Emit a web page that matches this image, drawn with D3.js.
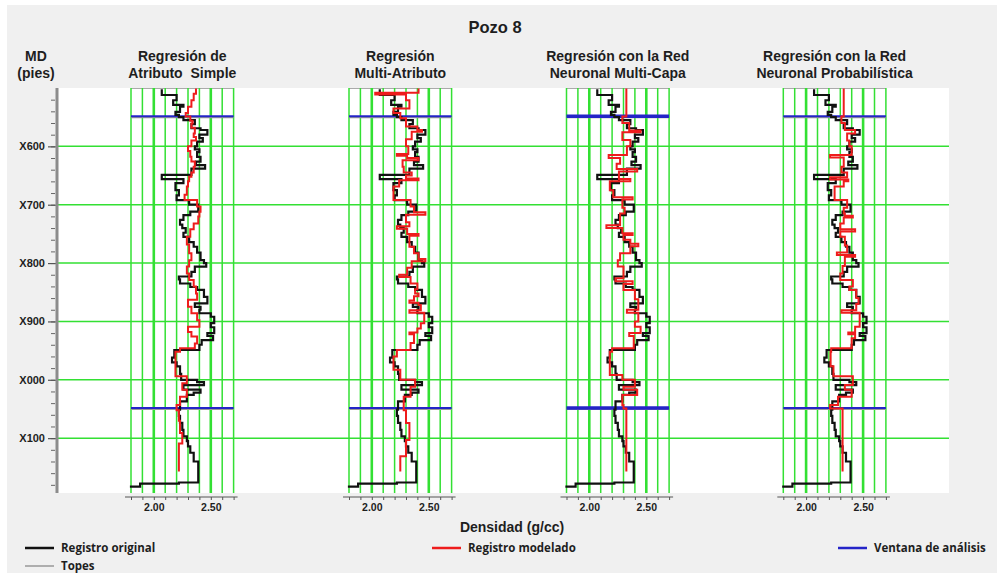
<!DOCTYPE html>
<html>
<head>
<meta charset="utf-8">
<script src="https://cdn.jsdelivr.net/npm/d3@7"></script>
<style>
  body { margin: 0; background: #fff; }
  svg text { font-family: "Liberation Sans", Arial, sans-serif; font-weight: bold; fill: #1e1e1e; white-space: pre; }
  .leyenda text { font-family: "Open Sans", sans-serif; font-size: 11.5px; }
</style>
</head>
<body>
<svg id="grafico" width="997" height="573"></svg>
<script>
//----------------------------------------------------------------
// données du graphique
//----------------------------------------------------------------
var titulo = "Pozo 8";
var titulosPistas = [
    ["Regresión de", "Atributo  Simple"],
    ["Regresión", "Multi-Atributo"],
    ["Regresión con la Red", "Neuronal Multi-Capa"],
    ["Regresión con la Red", "Neuronal Probabilística"]
];
var profMayores = [600, 700, 800, 900, 1000, 1100];
var etiquetasProf = ["X600", "X700", "X800", "X900", "X000", "X100"];
var profMenores = d3.range(520, 1181, 20);
var ticksDensidad = [1.8, 1.9, 2.0, 2.1, 2.2, 2.3, 2.4, 2.5, 2.6, 2.7];
var etiquetasDensidad = [2.0, 2.5];
var topes = [550.5, 1050.5];
var ventana = [548.5, 1048.5];

// [profundidad, densidad] -- registro original (le même dans les 4 pistes)
var registroOriginal = [
    [502,2.07],[512,2.20],[521,2.17],[529,2.26],[532,2.23],[541,2.19],[546,2.22],[550,2.26],
    [555,2.36],[562,2.33],[569,2.41],[572,2.47],[580,2.40],[586,2.43],[592,2.38],[600,2.36],
    [605,2.40],[610,2.38],[618,2.41],[626,2.37],[632,2.45],[638,2.33],[649,2.07],[656,2.26],
    [663,2.19],[675,2.22],[684,2.20],[692,2.31],[700,2.39],[712,2.32],[718,2.26],[726,2.23],
    [734,2.25],[740,2.28],[748,2.26],[755,2.31],[764,2.35],[772,2.38],[782,2.41],[795,2.44],
    [800,2.46],[806,2.36],[815,2.33],[823,2.22],[828,2.23],[835,2.32],[841,2.38],[846,2.44],
    [858,2.47],[869,2.36],[875,2.41],[880,2.40],[886,2.50],[892,2.53],[903,2.50],[910,2.53],
    [920,2.47],[925,2.52],[932,2.42],[940,2.40],[949,2.18],[962,2.16],[970,2.20],[977,2.23],
    [990,2.24],[1000,2.38],[1004,2.44],[1009,2.26],[1017,2.41],[1022,2.35],[1026,2.29],[1037,2.23],
    [1051,2.22],[1062,2.23],[1074,2.25],[1086,2.26],[1097,2.29],[1105,2.30],[1114,2.32],[1125,2.35],
    [1140,2.39],[1176,2.22],[1178,1.88],[1183,1.80],[1185,1.80]
];

// registros modelados, un par pista
var modeladoSimple = [
    [501,2.37],[510,2.35],[521,2.33],[532,2.30],[543,2.28],[549,2.32],[556,2.34],[561,2.33],
    [568,2.36],[578,2.35],[584,2.37],[590,2.33],[600,2.30],[608,2.32],[618,2.33],[626,2.36],
    [635,2.35],[645,2.33],[652,2.31],[660,2.30],[669,2.29],[683,2.27],[692,2.38],[703,2.41],
    [712,2.40],[720,2.39],[732,2.35],[742,2.32],[755,2.29],[768,2.31],[783,2.33],[795,2.31],
    [806,2.29],[818,2.31],[829,2.35],[840,2.37],[852,2.38],[863,2.30],[875,2.33],[886,2.38],
    [898,2.40],[909,2.30],[918,2.33],[926,2.38],[938,2.36],[946,2.23],[952,2.19],[994,2.29],
    [1006,2.25],[1017,2.29],[1029,2.23],[1043,2.20],[1052,2.22],[1070,2.23],[1091,2.25],[1109,2.22],
    [1157,2.22]
];
var modeladoMulti = [
    [501,2.41],[508,2.03],[511,2.30],[521,2.33],[535,2.19],[543,2.25],[552,2.30],[566,2.40],
    [572,2.44],[575,2.35],[588,2.30],[600,2.32],[613,2.22],[616,2.31],[620,2.41],[624,2.27],
    [635,2.28],[645,2.35],[650,2.30],[655,2.41],[658,2.24],[669,2.19],[692,2.34],[703,2.37],
    [713,2.47],[717,2.30],[730,2.33],[737,2.22],[741,2.31],[750,2.41],[753,2.33],[772,2.37],
    [783,2.41],[793,2.47],[797,2.35],[808,2.31],[820,2.24],[824,2.34],[835,2.40],[845,2.38],
    [852,2.41],[857,2.37],[864,2.33],[868,2.41],[872,2.43],[881,2.33],[885,2.46],[903,2.43],
    [912,2.40],[919,2.33],[922,2.37],[937,2.34],[949,2.22],[960,2.19],[983,2.25],[1000,2.38],
    [1012,2.34],[1029,2.28],[1052,2.30],[1074,2.33],[1103,2.30],[1131,2.25],[1157,2.25]
];
var modeladoMLP = [
    [501,2.325],[549,2.29],[560,2.35],[573,2.45],[576,2.29],[589,2.36],[600,2.33],[615,2.17],
    [620,2.27],[630,2.24],[639,2.42],[643,2.26],[656,2.36],[660,2.18],[675,2.21],[687,2.38],
    [691,2.29],[705,2.31],[715,2.27],[735,2.15],[740,2.29],[749,2.38],[752,2.30],[760,2.36],
    [767,2.43],[771,2.36],[783,2.27],[795,2.25],[806,2.30],[826,2.23],[831,2.38],[836,2.30],
    [846,2.40],[862,2.43],[880,2.33],[885,2.43],[900,2.40],[909,2.45],[920,2.35],[925,2.39],
    [946,2.20],[952,2.18],[992,2.29],[1000,2.40],[1012,2.30],[1017,2.42],[1026,2.29],[1043,2.30],
    [1049,2.325],[1157,2.325]
];
var modeladoPNN = [
    [501,2.33],[549,2.31],[560,2.34],[572,2.43],[578,2.36],[590,2.38],[600,2.40],[615,2.21],
    [619,2.33],[635,2.31],[645,2.36],[653,2.21],[657,2.37],[660,2.33],[669,2.25],[692,2.36],
    [705,2.33],[715,2.34],[719,2.41],[722,2.33],[732,2.30],[742,2.43],[746,2.30],[755,2.34],
    [770,2.36],[782,2.27],[786,2.43],[789,2.34],[805,2.32],[818,2.30],[829,2.41],[840,2.38],
    [846,2.44],[860,2.46],[870,2.44],[881,2.31],[885,2.47],[909,2.43],[919,2.37],[922,2.43],
    [929,2.40],[946,2.22],[952,2.215],[977,2.24],[994,2.41],[1009,2.34],[1017,2.40],[1029,2.28],
    [1043,2.21],[1049,2.32],[1157,2.32]
];
var modelados = [modeladoSimple, modeladoMulti, modeladoMLP, modeladoPNN];

//----------------------------------------------------------------
// dimensions
//----------------------------------------------------------------
var zone = {left: 58, right: 949, top: 88, bottom: 493};
var pistasX = [131, 349, 566.5, 783.3];
var anchoPista = 102.6;
var verde = "#33e033";

var svg = d3.select("#grafico");

// fond gris + zone blanche
svg.append("rect").attr("x", 7).attr("y", 5).attr("width", 990).attr("height", 568).attr("fill", "#f0f0f0");
svg.append("rect")
    .attr("x", zone.left).attr("y", zone.top)
    .attr("width", zone.right - zone.left).attr("height", zone.bottom - zone.top)
    .attr("fill", "#fff");

// échelle de profondeur
var y = d3.scaleLinear().domain([500, 1194]).range([zone.top, zone.bottom]);

// titres
svg.append("text").attr("x", 495).attr("y", 33).attr("text-anchor", "middle")
    .style("font-size", "16.5px").text(titulo);
svg.append("text").attr("x", 36).attr("y", 61).attr("text-anchor", "middle")
    .style("font-size", "14px").text("MD");
svg.append("text").attr("x", 36).attr("y", 78).attr("text-anchor", "middle")
    .style("font-size", "14px").text("(pies)");

// lignes horizontales vertes
svg.selectAll(".hgrid")
    .data(profMayores)
    .enter().append("line")
    .attr("class", "hgrid")
    .attr("x1", zone.left).attr("x2", zone.right)
    .attr("y1", function(d) { return y(d); })
    .attr("y2", function(d) { return y(d); })
    .attr("stroke", verde).attr("stroke-width", 1.5);

// axe des profondeurs
svg.append("g")
    .attr("transform", "translate(55,0)")
    .call(d3.axisLeft(y).tickValues(profMenores).tickSize(4).tickFormat(""))
    .call(function(g) { g.select(".domain").remove(); })
    .selectAll("line").attr("stroke", "#666");

var axeY = svg.append("g")
    .attr("transform", "translate(56,0)")
    .call(d3.axisLeft(y).tickValues(profMayores).tickSize(8).tickPadding(3)
        .tickFormat(function(d, i) { return etiquetasProf[i]; }));
axeY.select(".domain").remove();
axeY.selectAll("line").attr("stroke", "#555").attr("stroke-width", 1.2);
axeY.selectAll("text").style("font-size", "11px").attr("fill", "#333")
    .style("font-family", "'Liberation Sans', Arial, sans-serif").style("font-weight", "bold");

svg.append("line")
    .attr("x1", 57).attr("x2", 57).attr("y1", zone.top).attr("y2", zone.bottom)
    .attr("stroke", "#8c8c8c").attr("stroke-width", 3);

//----------------------------------------------------------------
// dessine une pista
//----------------------------------------------------------------
function dibujaPista(i) {
    var x0 = pistasX[i];
    var x = d3.scaleLinear().domain([1.8, 2.7]).range([x0, x0 + anchoPista]);
    var g = svg.append("g");
    var cx = x0 + anchoPista / 2;

    // titre de la pista
    g.append("text").attr("x", cx).attr("y", 61).attr("text-anchor", "middle")
        .style("font-size", "14px").text(titulosPistas[i][0]);
    g.append("text").attr("x", cx).attr("y", 78).attr("text-anchor", "middle")
        .style("font-size", "14px").text(titulosPistas[i][1]);

    // bord haut
    g.append("line").attr("x1", x0).attr("x2", x0 + anchoPista)
        .attr("y1", zone.top + 0.5).attr("y2", zone.top + 0.5)
        .attr("stroke", "#aaa").attr("stroke-width", 1);

    // lignes verticales
    g.selectAll(".vgrid")
        .data(ticksDensidad)
        .enter().append("line")
        .attr("x1", function(d) { return x(d); })
        .attr("x2", function(d) { return x(d); })
        .attr("y1", zone.top).attr("y2", zone.bottom)
        .attr("stroke", verde)
        .attr("stroke-width", function(d) { return etiquetasDensidad.indexOf(d) >= 0 ? 2.6 : 1.5; });

    // topes et fenêtre d'analyse
    g.selectAll(".tope")
        .data(topes)
        .enter().append("line")
        .attr("x1", x0).attr("x2", x0 + anchoPista)
        .attr("y1", function(d) { return y(d); })
        .attr("y2", function(d) { return y(d); })
        .attr("stroke", "#999").attr("stroke-width", 1.5);
    g.selectAll(".ventana")
        .data(ventana)
        .enter().append("line")
        .attr("x1", x0).attr("x2", x0 + anchoPista)
        .attr("y1", function(d) { return y(d); })
        .attr("y2", function(d) { return y(d); })
        .attr("stroke", "#2424c8").attr("stroke-width", i == 2 ? 3.5 : 2);

    // courbes
    var linea = d3.line()
        .x(function(d) { return x(d[1]); })
        .y(function(d) { return y(d[0]); })
        .curve(d3.curveStepBefore);

    g.append("path").datum(registroOriginal)
        .attr("d", linea).attr("fill", "none")
        .attr("stroke", "#111").attr("stroke-width", 2.2);
    g.append("path").datum(modelados[i])
        .attr("d", linea).attr("fill", "none")
        .attr("stroke", "#ee1c1c").attr("stroke-width", 2);

    // axe de densité
    g.append("line").attr("x1", x0 - 6).attr("x2", x0 + anchoPista + 4)
        .attr("y1", 497).attr("y2", 497).attr("stroke", "#555").attr("stroke-width", 1);
    var axeX = g.append("g")
        .attr("transform", "translate(0,497)")
        .call(d3.axisBottom(x).tickValues(ticksDensidad).tickSize(3).tickPadding(4)
            .tickFormat(function(d) { return etiquetasDensidad.indexOf(d) >= 0 ? d3.format(".2f")(d) : ""; }));
    axeX.select(".domain").remove();
    axeX.selectAll("line").attr("stroke", "#555");
    axeX.selectAll("text").style("font-size", "10.5px").attr("fill", "#333")
        .style("font-family", "'Liberation Sans', Arial, sans-serif").style("font-weight", "bold");
}

for (var i = 0; i < 4; i++) { dibujaPista(i); }

svg.append("text").attr("x", 512).attr("y", 532).attr("text-anchor", "middle")
    .style("font-size", "14px").text("Densidad (g/cc)");

//----------------------------------------------------------------
// légende
//----------------------------------------------------------------
var leyenda = [
    {x: 25, y: 548, color: "#111", ancho: 2.5, texto: "Registro original"},
    {x: 25, y: 566, color: "#999", ancho: 1.5, texto: "Topes"},
    {x: 432, y: 548, color: "#ee1c1c", ancho: 2.5, texto: "Registro modelado"},
    {x: 838, y: 548, color: "#2424c8", ancho: 2.5, texto: "Ventana de análisis"}
];
var ley = svg.selectAll(".leyenda")
    .data(leyenda)
    .enter().append("g")
    .attr("class", "leyenda");
ley.append("line")
    .attr("x1", function(d) { return d.x; })
    .attr("x2", function(d) { return d.x + 29; })
    .attr("y1", function(d) { return d.y; })
    .attr("y2", function(d) { return d.y; })
    .attr("stroke", function(d) { return d.color; })
    .attr("stroke-width", function(d) { return d.ancho; });
ley.append("text")
    .attr("x", function(d) { return d.x + 36; })
    .attr("y", function(d) { return d.y + 4; })
    .text(function(d) { return d.texto; });
</script>
</body>
</html>
